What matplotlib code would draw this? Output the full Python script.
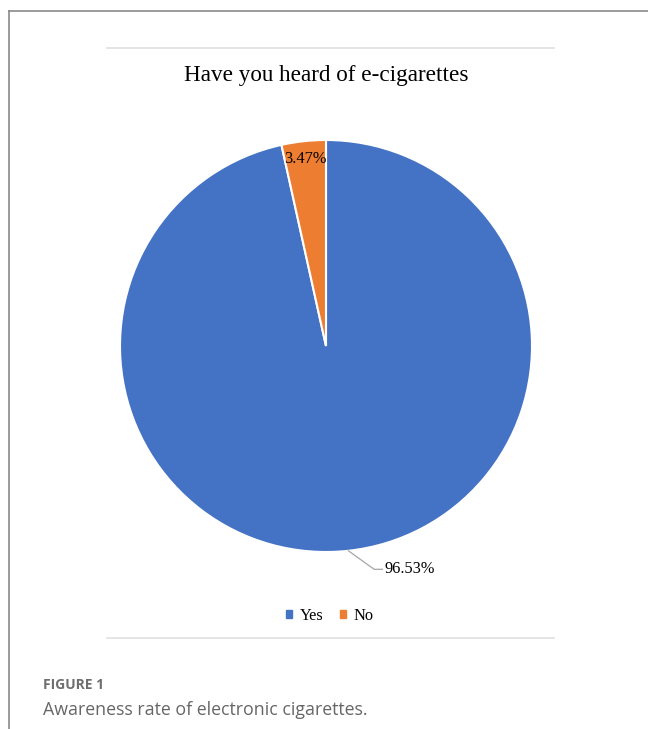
import numpy as np
import matplotlib
matplotlib.use("Agg")
import matplotlib.pyplot as plt
from matplotlib.lines import Line2D
from matplotlib.patches import Rectangle

# datos
categories = ["Yes", "No"]
values = [96.53, 3.47]
colors = ["#4472C4", "#ED7D31"]
title = "Have you heard of e-cigarettes"
fig_label = "FIGURE 1"
caption = "Awareness rate of electronic cigarettes."

W, H = 648, 729
fig = plt.figure(figsize=(W / 100, H / 100), dpi=100)
serif = ["Liberation Serif", "DejaVu Serif"]


def px(x, y):
    # pixel -> coordenadas de figura
    return x / W, 1 - y / H


# marco de la página
fig.add_artist(Line2D([px(9, 0)[0], 1], [px(0, 11)[1]] * 2, color="#8a8a8a", lw=1.2))
fig.add_artist(Line2D([px(9, 0)[0]] * 2, [px(0, 11)[1], 0], color="#8a8a8a", lw=1.2))

# líneas grises claras del área del gráfico
for yy in (48, 638):
    fig.add_artist(Line2D([px(107, 0)[0], px(554, 0)[0]], [px(0, yy)[1]] * 2,
                          color="#e3e3e3", lw=1.3))

fig.text(*px(326, 76), title, ha="center", va="center", fontsize=16.7,
         family=serif, color="black")

# pastel
cx, cy, r = 326, 346, 206
ax = fig.add_axes([(cx - r) / W, 1 - (cy + r) / H, 2 * r / W, 2 * r / H])
wedges, _ = ax.pie(values, colors=colors, startangle=90, counterclock=False,
                   wedgeprops=dict(edgecolor="white", linewidth=1.5))
ax.set_xlim(-1, 1)
ax.set_ylim(-1, 1)
ax.set_aspect("auto")
ax.axis("off")

for w, v in zip(wedges, values):
    ang = np.deg2rad((w.theta1 + w.theta2) / 2)
    ca, sa = np.cos(ang), np.sin(ang)
    lab = f"{v:.2f}%"
    if v > 50:
        # etiqueta fuera con línea guía
        p0 = (ca, sa)
        p1 = (ca + 0.125, sa - 0.09)
        p2 = (p1[0] + 0.04, p1[1])
        ax.plot([p0[0], p1[0], p2[0]], [p0[1], p1[1], p2[1]], color="#a6a6a6",
                lw=0.9, clip_on=False)
        ax.text(p2[0] + 0.01, p2[1], lab, ha="left", va="center", fontsize=11.8,
                family=serif, clip_on=False)
    else:
        ax.text(0.915 * ca, 0.915 * sa, lab, ha="center", va="center",
                fontsize=11.8, family=serif)

handles = [Rectangle((0, 0), 1, 1, color=c) for c in colors]
leg = fig.legend(handles, categories, loc="center", bbox_to_anchor=px(330, 616),
                 ncol=2, frameon=False, handlelength=0.35, handleheight=0.35,
                 handletextpad=0.5, columnspacing=1.0,
                 prop=dict(family=serif, size=11.8))

fig.text(*px(43, 685), fig_label, ha="left", va="center", fontsize=10,
         fontweight="bold", family=["Open Sans", "DejaVu Sans"], color="#6e6e6e")
fig.text(*px(43, 710), caption, ha="left", va="center", fontsize=12.8,
         family=["Open Sans", "DejaVu Sans"], color="#666666")

fig.savefig("out.png", dpi=100)
